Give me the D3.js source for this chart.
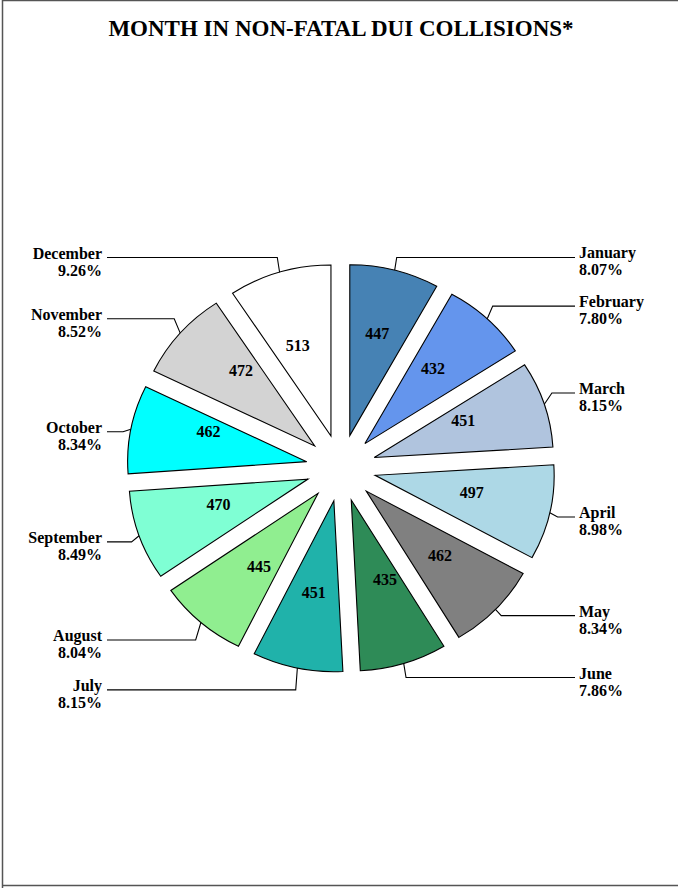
<!DOCTYPE html>
<html>
<head>
<meta charset="utf-8">
<script src="https://cdn.jsdelivr.net/npm/d3@7"></script>
<style>
  html, body { margin: 0; padding: 0; background: #fff; }
  svg { display: block; }
  text { font-family: "Liberation Serif", "Times New Roman", Times, serif; font-weight: bold; fill: #000; }
</style>
</head>
<body>
<script>
// Non-fatal DUI collisions by month
const months = ["January", "February", "March", "April", "May", "June",
                "July", "August", "September", "October", "November", "December"];
const collisions = [447, 432, 451, 497, 462, 435, 451, 445, 470, 462, 472, 513];
const sliceColors = ["#4682B4", "#6495ED", "#B0C4DE", "#ADD8E6", "#808080", "#2E8B57",
                     "#20B2AA", "#90EE90", "#7FFFD4", "#00FFFF", "#D3D3D3", "#FFFFFF"];
// vertical leg of each leader line, from the slice rim to the label row (px)
const leaderRise = [-12.7, -12.7, -11.2, 4.3, 6.2, 14.1, 21.8, 17.5, 6.1, 2.6, -14.4, -14.7];
// small hand adjustments of the in-slice count labels [dx, dy] (px)
const valueNudge = [[3, -12], [1, -7], [-4, -8], [1, -3], [3, -1], [5, -10],
                    [0, 0], [5, 2], [3, -6], [-2, -12], [0, -14], [-5, -1]];

const W = 678, H = 888;
const cx = 341, cy = 468;
const radius = 179, squash = 0.955, explode = 35, valueDist = 98;

const svg = d3.select("body").append("svg")
  .attr("width", W).attr("height", H);

// frame
svg.append("path")
  .attr("d", `M2.5,${H} V0.5 H${W} M2.5,885.5 H${W}`)
  .attr("fill", "none").attr("stroke", "#555").attr("stroke-width", 1.5);

svg.append("text")
  .attr("x", cx).attr("y", 36)
  .attr("text-anchor", "middle")
  .style("font-size", "23px")
  .text("MONTH IN NON-FATAL DUI COLLISIONS*");

const total = d3.sum(collisions);
const pie = d3.pie().sort(null).value(d => d);
const arcs = pie(collisions);
const arc = d3.arc().innerRadius(0).outerRadius(radius);

const pieG = svg.append("g")
  .attr("transform", `translate(${cx},${cy}) scale(1,${squash})`);

pieG.selectAll("path.slice")
  .data(arcs)
  .join("path")
  .attr("class", "slice")
  .attr("d", arc)
  .attr("transform", d => {
    const a = (d.startAngle + d.endAngle) / 2;
    return `translate(${explode * Math.sin(a)},${-explode * Math.cos(a)})`;
  })
  .attr("fill", (d, i) => sliceColors[i])
  .attr("stroke", "#000")
  .attr("stroke-width", 1.1)
  .attr("vector-effect", "non-scaling-stroke");

// screen position at a distance along a slice's bisector
const along = (a, dist) => [cx + dist * Math.sin(a), cy - dist * squash * Math.cos(a)];
const mid = d => (d.startAngle + d.endAngle) / 2;

// counts inside slices
svg.selectAll("text.value")
  .data(arcs)
  .join("text")
  .attr("class", "value")
  .attr("text-anchor", "middle")
  .attr("dy", "0.35em")
  .style("font-size", "16px")
  .attr("x", (d, i) => along(mid(d), explode + valueDist)[0] + valueNudge[i][0])
  .attr("y", (d, i) => along(mid(d), explode + valueDist)[1] + valueNudge[i][1])
  .text(d => d.data);

// leader lines and month / share labels
const labelG = svg.append("g");
arcs.forEach((d, i) => {
  const a = mid(d);
  const right = a < Math.PI;
  const [mx, my] = along(a, explode + radius);
  const ly = my + leaderRise[i];
  const ex = mx + 8 * Math.sin(a);
  const endX = right ? 575 : 107;
  labelG.append("path")
    .attr("d", `M${mx},${my} L${ex},${ly} L${endX},${ly}`)
    .attr("fill", "none").attr("stroke", "#000").attr("stroke-width", 1.1);
  const tx = right ? 579 : 102;
  const t = labelG.append("text")
    .attr("text-anchor", right ? "start" : "end")
    .style("font-size", "16px");
  t.append("tspan").attr("x", tx).attr("y", ly + 1).text(months[i]);
  t.append("tspan").attr("x", tx).attr("y", ly + 18)
    .text((d.data / total * 100).toFixed(2) + "%");
});
</script>
</body>
</html>
